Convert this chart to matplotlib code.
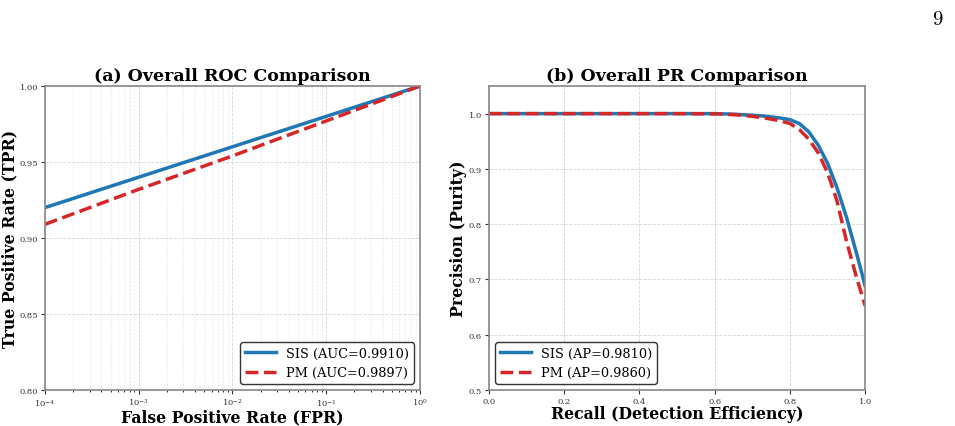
import matplotlib
matplotlib.use('Agg')
import matplotlib.pyplot as plt

plt.rcParams['font.family'] = 'DejaVu Serif'
plt.rcParams['mathtext.fontset'] = 'cm'

# ROC data (log-spaced FPR)
fpr = [1e-4, 1e-3, 1e-2, 1e-1, 1.0]
tpr_sis = [0.920, 0.940, 0.960, 0.980, 1.000]
tpr_pm = [0.909, 0.932, 0.954, 0.977, 1.000]

# PR data
recall = [0.0, 0.1, 0.2, 0.3, 0.4, 0.5, 0.6, 0.625, 0.65, 0.675, 0.7, 0.725,
          0.75, 0.775, 0.8, 0.825, 0.85, 0.875, 0.9, 0.925, 0.95, 0.975, 1.0]
prec_sis = [1.0, 1.0, 1.0, 1.0, 1.0, 1.0, 1.0, 0.9995, 0.999, 0.998, 0.997, 0.996,
            0.994, 0.992, 0.989, 0.982, 0.967, 0.943, 0.910, 0.866, 0.813, 0.752, 0.688]
prec_pm = [1.0, 1.0, 1.0, 1.0, 1.0, 1.0, 0.9995, 0.999, 0.998, 0.997, 0.995, 0.993,
           0.990, 0.987, 0.982, 0.971, 0.954, 0.929, 0.893, 0.842, 0.770, 0.708, 0.652]

blue = '#1f77b4'
red = '#d62728'
spine_col = '#888888'

fig = plt.figure(figsize=(9.55, 4.27), dpi=100)
ax1 = fig.add_axes([0.0471, 0.0843, 0.3927, 0.712])
ax2 = fig.add_axes([0.512, 0.0843, 0.394, 0.712])

ax1.plot(fpr, tpr_sis, color=blue, lw=2.5, label='SIS (AUC=0.9910)')
ax1.plot(fpr, tpr_pm, color=red, lw=2.5, ls='--', label='PM (AUC=0.9897)')
ax1.set_xscale('log')
ax1.set_xlim(1e-4, 1)
ax1.set_ylim(0.8, 1.0)
ax1.set_yticks([0.80, 0.85, 0.90, 0.95, 1.00])
ax1.set_yticklabels(['0.80', '0.85', '0.90', '0.95', '1.00'])
ax1.grid(True, which='major', ls='--', color='#cccccc', lw=0.6, alpha=0.8)
ax1.grid(True, which='minor', ls='--', color='#dddddd', lw=0.5, alpha=0.6)
ax1.set_title('(a) Overall ROC Comparison', fontsize=12.5, fontweight='bold', pad=4)
ax1.set_xlabel('False Positive Rate (FPR)', fontsize=11.3, fontweight='bold', labelpad=0)
ax1.set_ylabel('True Positive Rate (TPR)', fontsize=11.3, fontweight='bold', labelpad=1)
ax1.legend(loc='lower right', fontsize=9.3, edgecolor='#333333', framealpha=1,
           handlelength=2.4, borderpad=0.35)

ax2.plot(recall, prec_sis, color=blue, lw=2.5, label='SIS (AP=0.9810)')
ax2.plot(recall, prec_pm, color=red, lw=2.5, ls='--', label='PM (AP=0.9860)')
ax2.set_xlim(0, 1)
ax2.set_ylim(0.5, 1.05)
ax2.set_xticks([0.0, 0.2, 0.4, 0.6, 0.8, 1.0])
ax2.set_yticks([0.5, 0.6, 0.7, 0.8, 0.9, 1.0])
ax2.grid(True, ls='--', color='#cccccc', lw=0.6, alpha=0.8)
ax2.set_title('(b) Overall PR Comparison', fontsize=12.5, fontweight='bold', pad=4)
ax2.set_xlabel('Recall (Detection Efficiency)', fontsize=11.3, fontweight='bold', labelpad=0)
ax2.set_ylabel('Precision (Purity)', fontsize=11.3, fontweight='bold', labelpad=1)
ax2.legend(loc='lower left', fontsize=9.3, edgecolor='#333333', framealpha=1,
           handlelength=2.4, borderpad=0.35)

for ax in (ax1, ax2):
    for sp in ax.spines.values():
        sp.set_color(spine_col)
        sp.set_linewidth(1.2)
    ax.tick_params(labelsize=6, colors='#333333', length=3, width=0.8, pad=2)
    ax.tick_params(which='minor', length=1.5)

fig.text(0.9875, 0.955, '$9$', fontsize=15, ha='right', va='center')

fig.savefig('out.png', dpi=100)
